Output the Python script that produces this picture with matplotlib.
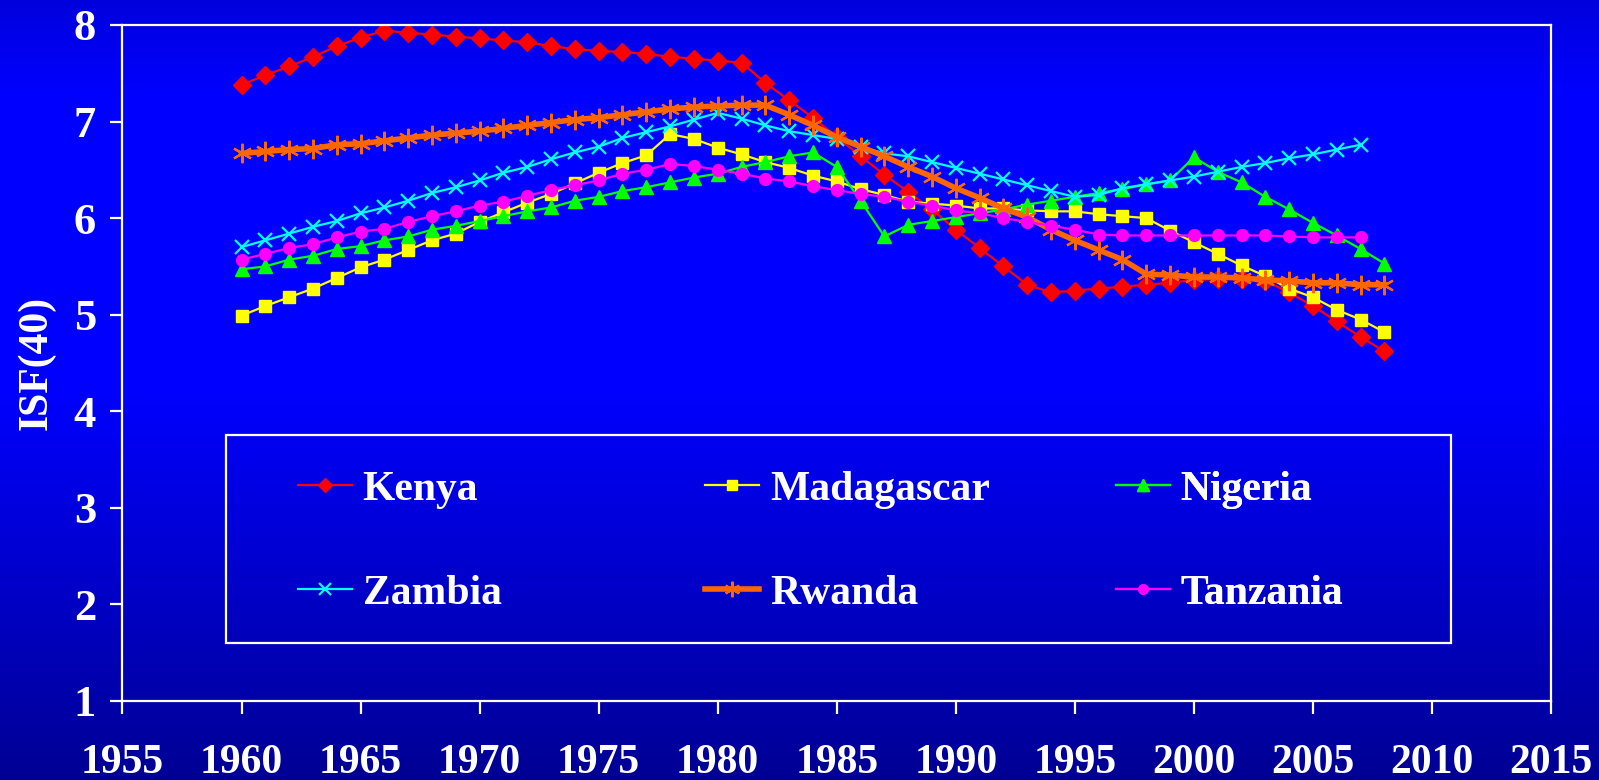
import numpy as np
import matplotlib
matplotlib.use("Agg")
import matplotlib.pyplot as plt
from matplotlib.patches import Rectangle

# données ISF(40) par pays
years = list(range(1960, 2009))
years_short = list(range(1960, 2008))

kenya = [7.38, 7.48, 7.57, 7.67, 7.78, 7.87, 7.94, 7.92, 7.90, 7.88,
         7.86, 7.84, 7.82, 7.78, 7.75, 7.73, 7.72, 7.70, 7.67, 7.65,
         7.63, 7.61, 7.40, 7.22, 7.04, 6.84, 6.64, 6.45, 6.27, 6.09,
         5.88, 5.69, 5.50, 5.31, 5.23, 5.25, 5.27, 5.29, 5.31, 5.33,
         5.36, 5.37, 5.37, 5.35, 5.23, 5.09, 4.93, 4.77, 4.62]
madagascar = [4.99, 5.09, 5.18, 5.27, 5.38, 5.49, 5.57, 5.67, 5.77, 5.84,
              5.96, 6.06, 6.16, 6.25, 6.36, 6.47, 6.57, 6.65, 6.87, 6.82,
              6.73, 6.66, 6.58, 6.52, 6.44, 6.38, 6.30, 6.24, 6.17, 6.15,
              6.13, 6.10, 6.10, 6.08, 6.07, 6.07, 6.04, 6.02, 6.00, 5.87,
              5.75, 5.63, 5.51, 5.40, 5.27, 5.18, 5.05, 4.95, 4.82]
nigeria = [5.47, 5.50, 5.57, 5.61, 5.68, 5.71, 5.77, 5.81, 5.88, 5.92,
           5.97, 6.02, 6.07, 6.11, 6.18, 6.22, 6.28, 6.32, 6.37, 6.42,
           6.46, 6.53, 6.58, 6.64, 6.68, 6.53, 6.18, 5.81, 5.93, 5.97,
           6.01, 6.05, 6.09, 6.14, 6.18, 6.22, 6.26, 6.30, 6.35, 6.39,
           6.63, 6.48, 6.37, 6.22, 6.09, 5.95, 5.82, 5.68, 5.53]
zambia = [5.70, 5.77, 5.84, 5.91, 5.97, 6.05, 6.11, 6.18, 6.26, 6.32,
          6.39, 6.47, 6.53, 6.61, 6.68, 6.74, 6.83, 6.89, 6.95, 7.02,
          7.09, 7.03, 6.96, 6.90, 6.86, 6.82, 6.74, 6.67, 6.64, 6.58,
          6.52, 6.46, 6.40, 6.34, 6.28, 6.22, 6.24, 6.31, 6.35, 6.39,
          6.43, 6.48, 6.53, 6.57, 6.62, 6.66, 6.71, 6.76]
rwanda = [6.67, 6.69, 6.71, 6.72, 6.76, 6.77, 6.80, 6.83, 6.86, 6.88,
          6.90, 6.93, 6.96, 6.99, 7.02, 7.04, 7.07, 7.10, 7.13, 7.15,
          7.16, 7.17, 7.17, 7.07, 6.96, 6.84, 6.74, 6.64, 6.53, 6.43,
          6.31, 6.21, 6.10, 6.01, 5.88, 5.77, 5.67, 5.57, 5.42, 5.41,
          5.39, 5.39, 5.38, 5.36, 5.35, 5.33, 5.33, 5.31, 5.31]
tanzania = [5.57, 5.63, 5.69, 5.73, 5.80, 5.86, 5.89, 5.96, 6.02, 6.07,
            6.13, 6.17, 6.23, 6.29, 6.34, 6.39, 6.46, 6.50, 6.56, 6.54,
            6.50, 6.46, 6.41, 6.38, 6.33, 6.29, 6.25, 6.22, 6.17, 6.13,
            6.08, 6.05, 6.00, 5.96, 5.92, 5.88, 5.83, 5.82, 5.82, 5.82,
            5.82, 5.82, 5.82, 5.82, 5.81, 5.80, 5.80, 5.80]

x_ticks = list(range(1955, 2020, 5))
y_ticks = [1, 2, 3, 4, 5, 6, 7, 8]

plt.rcParams['font.family'] = ['Liberation Serif', 'DejaVu Serif']
plt.rcParams['font.weight'] = 'bold'

fig = plt.figure(figsize=(15.99, 7.80), dpi=100)

# fond dégradé bleu
bg = fig.add_axes([0, 0, 1, 1], zorder=-1)
pos = np.linspace(0, 1, 400)
grad = np.interp(pos, [0, 0.12, 0.5, 1.0], [0.87, 1.0, 1.0, 0.58])
img = np.zeros((400, 1, 3))
img[:, 0, 2] = grad
bg.imshow(img, aspect='auto', extent=[0, 1, 0, 1], origin='upper')
bg.axis('off')

ax = fig.add_axes([0.0766, 0.1013, 0.8934, 0.8667])
ax.set_facecolor('none')

l1, = ax.plot(years, kenya, color='#FF0000', lw=1.6, marker='D', ms=9.5, mec='#FF0000')
l2, = ax.plot(years, madagascar, color='#FFFF00', lw=1.6, marker='s', ms=8.5, mec='#FFFF00')
l3, = ax.plot(years, nigeria, color='#00FF00', lw=1.6, marker='^', ms=10, mec='#00FF00')
l4, = ax.plot(years_short, zambia, color='#00FFFF', lw=1.6, marker='x', ms=10, mew=1.6)
l5, = ax.plot(years, rwanda, color='#FF6600', lw=4, marker=(6, 2, 0), ms=14, mew=1.6)
l6, = ax.plot(years_short, tanzania, color='#FF00FF', lw=1.6, marker='o', ms=8.5, mec='#FF00FF')

ax.set_xlim(1955, 2015)
ax.set_ylim(1, 8)
ax.set_xticks(x_ticks)
ax.set_yticks(y_ticks)

for s in ax.spines.values():
    s.set_color('white')
    s.set_linewidth(1.6)
ax.tick_params(axis='both', colors='white', width=1.6, length=9)
ax.tick_params(axis='x', pad=22, labelsize=30)
ax.tick_params(axis='y', pad=10, labelsize=32)

fig.text(36 / 1599, 1 - 363 / 780, 'ISF(40)', rotation=90, ha='center', va='center',
         color='white', fontsize=30, fontweight='bold')

# cadre de la légende
ax.add_patch(Rectangle((0.0728, 0.0858), 0.857, 0.308, transform=ax.transAxes,
                       fill=False, ec='white', lw=1.6, zorder=5))

cols = [([l1, l4], ['Kenya', 'Zambia'], 0.1229),
        ([l2, l5], ['Madagascar', 'Rwanda'], 0.408),
        ([l3, l6], ['Nigeria', 'Tanzania'], 0.6955)]
for handles, labels, xpos in cols:
    leg = ax.legend(handles, labels, loc='center left', bbox_to_anchor=(xpos, 0.236),
                    frameon=False, fontsize=30, labelcolor='white', borderpad=0,
                    borderaxespad=0, handlelength=1.3, handletextpad=0.25,
                    labelspacing=1.58, markerscale=0.8)
    ax.add_artist(leg)

fig.savefig('out.png', dpi=100)
